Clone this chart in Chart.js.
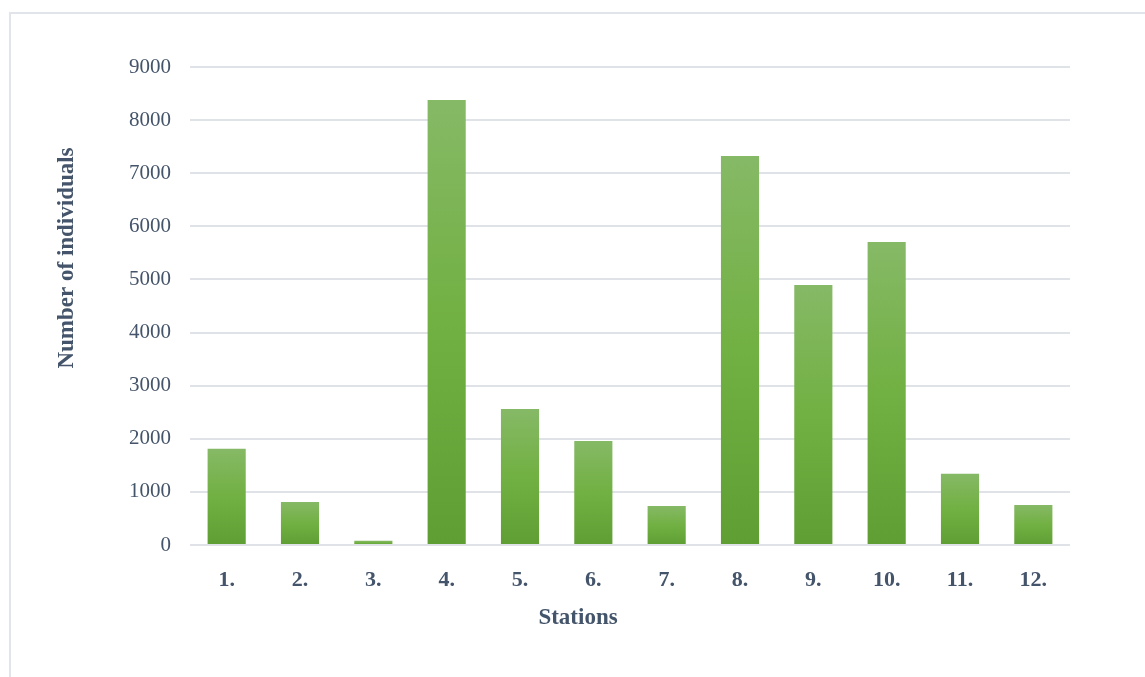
<!DOCTYPE html>
<html>
<head>
<meta charset="utf-8">
<script src="https://cdn.jsdelivr.net/npm/chart.js@4"></script>
<style>
  html, body { margin: 0; padding: 0; background: #fff; overflow: hidden; }
  #frame {
    position: absolute; left: 9px; top: 12px;
    width: 1200px; height: 700px;
    border: 2px solid #e1e5ea;
  }
  #wrap { position: absolute; left: 0; top: 0; width: 1145px; height: 677px; }
</style>
</head>
<body>
<div id="frame"></div>
<div id="wrap"><canvas id="stationsChart" width="1145" height="677"></canvas></div>
<script>
// Stations and counts
const stations = ['1.', '2.', '3.', '4.', '5.', '6.', '7.', '8.', '9.', '10.', '11.', '12.'];
const individuals = [1810, 810, 80, 8380, 2560, 1960, 735, 7325, 4895, 5705, 1340, 755];
const yTicks = [0, 1000, 2000, 3000, 4000, 5000, 6000, 7000, 8000, 9000];

const textColor = '#44546a';
const gridColor = '#dfe3e8';
const serif = '"Liberation Serif", "Times New Roman", serif';

// green gradient from each bar's top down to the axis
function barGradient(context) {
  const chart = context.chart;
  if (!chart.chartArea || !chart.scales.y) return '#70ad47';
  const y = chart.scales.y;
  const top = y.getPixelForValue(individuals[context.dataIndex]);
  const base = y.getPixelForValue(0);
  if (!isFinite(top) || base - top < 1) return '#70ad47';
  const g = chart.ctx.createLinearGradient(0, top, 0, base);
  g.addColorStop(0, '#86b966');
  g.addColorStop(0.5, '#71b042');
  g.addColorStop(1, '#5f9e33');
  return g;
}

// axis titles, placed off-centre like the original chart
const axisTitles = {
  id: 'axisTitles',
  afterDraw(chart) {
    const ctx = chart.ctx;
    const area = chart.chartArea;
    ctx.save();
    ctx.fillStyle = textColor;
    ctx.font = 'bold 23px ' + serif;
    ctx.textAlign = 'center';
    ctx.textBaseline = 'middle';
    ctx.fillText('Stations', area.left + 388, area.bottom + 73);
    ctx.translate(area.left - 123, area.top + 191);
    ctx.rotate(-Math.PI / 2);
    ctx.fillText('Number of individuals', 0, 0);
    ctx.restore();
  }
};

new Chart(document.getElementById('stationsChart'), {
  type: 'bar',
  data: {
    labels: stations,
    datasets: [{
      data: individuals,
      backgroundColor: barGradient,
      borderWidth: 0,
      categoryPercentage: 1,
      barPercentage: 0.52
    }]
  },
  plugins: [axisTitles],
  options: {
    responsive: false,
    animation: false,
    events: [],
    layout: { padding: { left: 40, right: 75, top: 67, bottom: 0 } },
    plugins: {
      legend: { display: false },
      tooltip: { enabled: false }
    },
    scales: {
      x: {
        afterFit: (scale) => { scale.height = 132; },
        grid: { display: false },
        border: { display: false },
        ticks: {
          color: textColor,
          padding: 14,
          font: { family: serif, size: 22, weight: 'bold' }
        }
      },
      y: {
        min: 0,
        max: 9000,
        afterBuildTicks: (scale) => { scale.ticks = yTicks.map(v => ({ value: v })); },
        afterFit: (scale) => { scale.width = 150; },
        grid: { color: gridColor, lineWidth: 2, drawTicks: false },
        border: { display: false },
        ticks: {
          color: textColor,
          padding: 19,
          callback: (v) => String(v),
          font: { family: serif, size: 21 }
        }
      }
    }
  }
});
</script>
</body>
</html>
